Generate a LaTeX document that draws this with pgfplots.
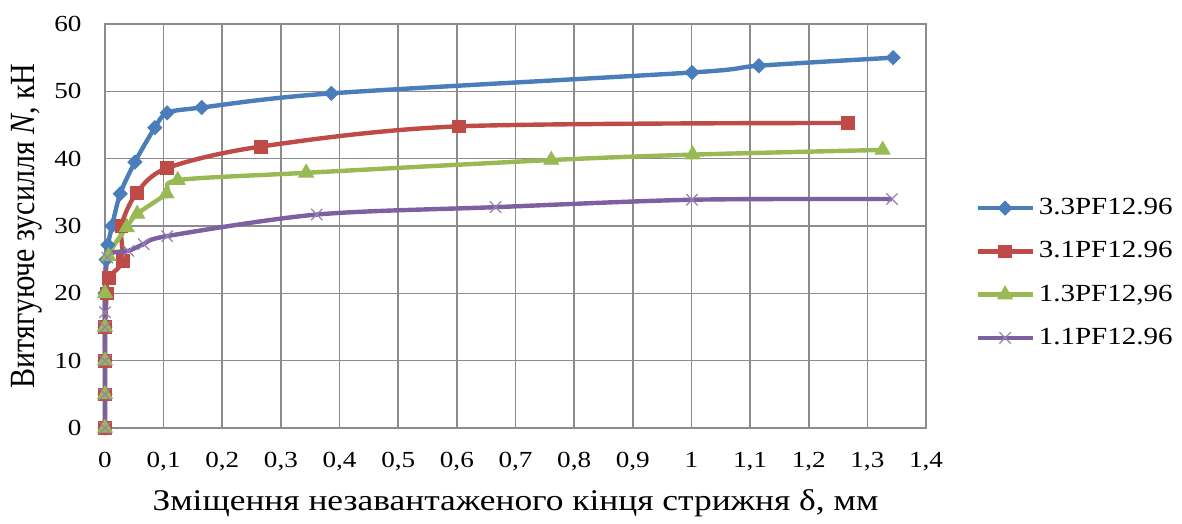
\documentclass[border=0pt]{standalone}
\usepackage{pgfplots}
\pgfplotsset{compat=1.18}
\usepackage{fontspec}
\usepackage{graphicx}
\setmainfont{Liberation Serif}[FakeStretch=1.18]
\newfontfamily\ylabfont{Liberation Serif}

\definecolor{cBlue}{HTML}{4A7EBB}
\definecolor{cRed}{HTML}{BE4B48}
\definecolor{cGreen}{HTML}{98B954}
\definecolor{cPurple}{HTML}{7D60A0}
\definecolor{gridgray}{HTML}{8C8C8C}

\begin{document}
\begin{tikzpicture}
\begin{axis}[
  name=ax,
  scale only axis,
  width=410.5pt, height=202pt,
  xmin=0, xmax=1.4, ymin=0, ymax=60,
  xtick={0,0.1,0.2,0.3,0.4,0.5,0.6,0.7,0.8,0.9,1,1.1,1.2,1.3,1.4},
  ytick={0,10,20,30,40,50,60},
  grid=major,
  major grid style={gridgray, line width=0.8pt},
  axis line style={gridgray, line width=0.8pt},
  major tick length=0pt,
  tick label style={font=\fontsize{11.5}{13}\selectfont},
  /pgf/number format/use comma,
  /pgf/number format/assume math mode=true,
  xticklabel shift=8.7pt,
  yticklabel shift=8.2pt,
  clip=false,
  xlabel={Зміщення незавантаженого кінця стрижня δ, мм},
  xlabel style={at={(axis description cs:0.5,-0.203)}, anchor=base,
                font=\fontsize{15}{17}\selectfont},
  ylabel={\scalebox{1}[1.18]{\ylabfont Витягуюче зусилля \textit{N}, кН}},
  ylabel style={at={(axis description cs:-0.0853,0.5)}, rotate=0, anchor=base,
                font=\fontsize{15}{17}\selectfont},
  legend cell align=left,
  legend style={at={(axis description cs:1.0597,0.3837)}, anchor=west,
                draw=none, fill=none, inner sep=0pt, row sep=8pt,
                font=\fontsize{12.3}{14}\selectfont},
  legend image code/.code={%
    \draw[mark repeat=2,mark phase=2] plot coordinates {(0pt,0pt)(13.75pt,0pt)(27.5pt,0pt)};},
]
% 3.3PF12.96
\addplot[cBlue, line width=2.2pt, smooth, mark=square*, mark size=2.5pt,
  mark options={rotate=45, solid, fill=cBlue, draw=cBlue, line width=0.4pt}]
  coordinates {(0,0)(0,5)(0,10)(0,15)(0,20)(0.002,25)(0.005,27.2)(0.012,30)
   (0.026,34.8)(0.051,39.5)(0.085,44.6)(0.106,46.8)(0.165,47.6)(0.386,49.7)
   (1.001,52.8)(1.115,53.8)(1.344,55.0)};
\addlegendentry{3.3PF12.96}
% 3.1PF12.96
\addplot[cRed, line width=2.2pt, smooth, mark=square*, mark size=3.2pt,
  mark options={solid, fill=cRed, draw=cRed, line width=0.4pt}]
  coordinates {(0,0)(0,5)(0,10)(0,15)(0.003,20)(0.006,22.3)(0.03,24.8)(0.028,30)
   (0.054,34.9)(0.106,38.6)(0.266,41.8)(0.603,44.8)(1.267,45.3)};
\addlegendentry{3.1PF12.96}
% 1.3PF12,96
\addplot[cGreen, line width=2.2pt, smooth, mark=triangle*, mark size=4.3pt,
  mark options={solid, fill=cGreen, draw=cGreen, line width=0.4pt}]
  coordinates {(0,0)(0,5)(0,10)(0,15)(0,20)(0.006,25.5)(0.037,29.8)(0.055,31.8)
   (0.105,34.8)(0.124,36.8)(0.343,37.9)(0.761,39.8)(1.002,40.6)(1.326,41.3)};
\addlegendentry{1.3PF12,96}
% 1.1PF12.96
\addplot[cPurple, line width=2.2pt, smooth, mark=x, mark size=4pt,
  mark options={solid, draw=cPurple!80, line width=0.6pt}]
  coordinates {(0,0)(0,5)(0,10)(0,15)(0,17.2)(0.004,25.3)(0.04,26.3)(0.066,27.3)
   (0.106,28.5)(0.361,31.7)(0.666,32.8)(1.001,33.9)(1.342,34.0)};
\addlegendentry{1.1PF12.96}
\end{axis}
\path ([shift={(-52.5pt,-44pt)}]ax.south west) rectangle ([shift={(128pt,12pt)}]ax.north east);
\end{tikzpicture}
\end{document}
